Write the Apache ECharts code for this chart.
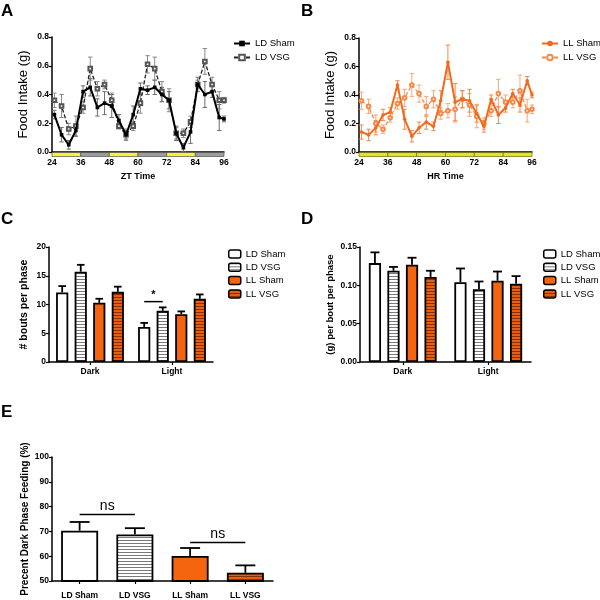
<!DOCTYPE html>
<html><head><meta charset="utf-8">
<script src="https://cdn.jsdelivr.net/npm/echarts@6/dist/echarts.min.js"></script>
<style>html,body{margin:0;padding:0;background:#fff}#c{width:600px;height:600px}</style>
</head><body><div id="c"></div>
<script>
// ---------- Panel A / B (time courses) ----------
const hours = [25,28,31,34,37,40,43,46,49,52,55,58,61,64,67,70,73,76,79,82,85,88,91,94,96];
const ldSham    = [0.26,0.12,0.05,0.15,0.42,0.45,0.31,0.34,0.32,0.22,0.12,0.26,0.44,0.43,0.45,0.40,0.36,0.13,0.03,0.14,0.47,0.40,0.42,0.24,0.23];
const ldShamErr = [0.03,0.05,0.03,0.04,0.04,0.06,0.06,0.08,0.08,0.04,0.03,0.06,0.04,0.03,0.05,0.05,0.06,0.05,0.03,0.08,0.05,0.09,0.04,0.09,0.02];
const ldVsg     = [0.36,0.32,0.16,0.18,0.31,0.58,0.44,0.47,0.36,0.18,0.12,0.18,0.34,0.61,0.58,0.42,0.36,0.13,0.13,0.21,0.47,0.63,0.47,0.36,0.36];
const ldVsgErr  = [0.05,0.08,0.04,0.07,0.04,0.08,0.05,0.03,0.05,0.02,0.04,0.03,0.07,0.06,0.08,0.07,0.08,0.04,0.03,0.04,0.03,0.09,0.05,0.06,0.02];
const llSham    = [0.14,0.12,0.17,0.26,0.28,0.47,0.23,0.11,0.17,0.21,0.18,0.36,0.63,0.35,0.37,0.36,0.27,0.18,0.37,0.26,0.31,0.41,0.33,0.50,0.40];
const llShamErr = [0.05,0.04,0.05,0.04,0.03,0.03,0.07,0.04,0.04,0.05,0.03,0.07,0.12,0.13,0.06,0.08,0.06,0.04,0.03,0.06,0.03,0.03,0.05,0.03,0.02];
const llVsg     = [0.36,0.32,0.20,0.16,0.24,0.34,0.38,0.47,0.41,0.32,0.37,0.27,0.29,0.30,0.37,0.33,0.25,0.20,0.29,0.41,0.35,0.35,0.43,0.29,0.30];
const llVsgErr  = [0.06,0.05,0.06,0.03,0.03,0.04,0.06,0.08,0.06,0.07,0.06,0.04,0.05,0.09,0.06,0.08,0.08,0.04,0.04,0.10,0.05,0.04,0.11,0.08,0.03];
const phaseStart = [24,36,48,60,72,84];
const phaseEnd   = [36,48,60,72,84,96];
const phaseDarkLD = [0,1,0,1,0,1];   // 0 = light (yellow), 1 = dark (gray)

// ---------- Panel C / D (bouts) ----------
const phases = ['Dark','Light'];
const groups = ['LD Sham','LD VSG','LL Sham','LL VSG'];
const boutsLDSham = [12.1, 6.1],  boutsLDShamErr = [1.1, 0.7];
const boutsLDVsg  = [15.7, 8.9],  boutsLDVsgErr  = [1.2, 0.6];
const boutsLLSham = [10.3, 8.3],  boutsLLShamErr = [0.7, 0.5];
const boutsLLVsg  = [12.2, 11.0], boutsLLVsgErr  = [0.9, 0.75];
const sizeLDSham = [0.129, 0.104], sizeLDShamErr = [0.014, 0.018];
const sizeLDVsg  = [0.119, 0.095], sizeLDVsgErr  = [0.005, 0.010];
const sizeLLSham = [0.127, 0.106], sizeLLShamErr = [0.009, 0.012];
const sizeLLVsg  = [0.111, 0.102], sizeLLVsgErr  = [0.008, 0.010];

// ---------- Panel E ----------
const eCats = ['LD Sham','LD VSG','LL Sham','LL VSG'];
const eVals = [70.3, 68.8, 60.1, 53.3];
const eErr  = [3.5, 2.5, 3.2, 3.0];

// significance annotations: [catA, seriesA, catB, seriesB, y]
const sigC = [[1, 0, 1, 1, 10.5]];
const sigCText = ['*'];
const sigE = [[0, 0, 1, 0, 76.8], [2, 0, 3, 0, 65.5]];
const sigEText = ['ns', 'ns'];

// ---------- styling ----------
const FONT = '"Liberation Sans", Arial, sans-serif';
const ORANGE = '#f5650f';
function stripe(bg, line){
  const c = document.createElement('canvas'); c.width = 4; c.height = 3;
  const g = c.getContext('2d');
  g.fillStyle = bg; g.fillRect(0,0,4,3);
  g.fillStyle = line; g.fillRect(0,0,4,1);
  return {image: c, repeat: 'repeat'};
}
const fills = ['#ffffff', stripe('#ffffff','#7a7a7a'), ORANGE, stripe('#e8600f','#8a2e08')];

function lineErr(color){
  return function(params, api){
    const x = api.value(0), y = api.value(1), e = api.value(2);
    const lo = api.coord([x, Math.max(0, y - e)]), hi = api.coord([x, y + e]);
    const c = 2.2, st = {stroke: color, lineWidth: 1};
    return {type:'group', children:[
      {type:'line', shape:{x1:lo[0],y1:lo[1],x2:hi[0],y2:hi[1]}, style:st},
      {type:'line', shape:{x1:lo[0]-c,y1:lo[1],x2:lo[0]+c,y2:lo[1]}, style:st},
      {type:'line', shape:{x1:hi[0]-c,y1:hi[1],x2:hi[0]+c,y2:hi[1]}, style:st}
    ]};
  };
}
function barErr(nSeries, barW, gap, cap){
  return function(params, api){
    const cat = api.value(0), v = api.value(1), e = api.value(2), s = api.value(3);
    const off = (s - (nSeries - 1) / 2) * barW * (1 + gap);
    const b = api.coord([cat, v]), t = api.coord([cat, v + e]);
    const x = b[0] + off, st = {stroke:'#000', lineWidth:1.8};
    return {type:'group', children:[
      {type:'line', shape:{x1:x,y1:b[1],x2:x,y2:t[1]}, style:st},
      {type:'line', shape:{x1:x-cap,y1:t[1],x2:x+cap,y2:t[1]}, style:st}
    ]};
  };
}
function sigRender(nSeries, barW, gap, texts, fontSize, weight){
  return function(params, api){
    const ca = api.value(0), sa = api.value(1), cb = api.value(2), sb = api.value(3), y = api.value(4);
    const pa = api.coord([ca, y]), pb = api.coord([cb, y]);
    const xa = pa[0] + (sa - (nSeries - 1) / 2) * barW * (1 + gap);
    const xb = pb[0] + (sb - (nSeries - 1) / 2) * barW * (1 + gap);
    return {type:'group', children:[
      {type:'line', shape:{x1:xa,y1:pa[1],x2:xb,y2:pa[1]}, style:{stroke:'#000', lineWidth:1.5}},
      {type:'text', x:(xa+xb)/2, y:pa[1]-1, style:{text:texts[params.dataIndex], font: weight+' '+fontSize+'px '+FONT, fill:'#000', align:'center', verticalAlign:'bottom'}}
    ]};
  };
}
function strip(fillFn, stroke){
  return function(params, api){
    const a = api.coord([api.value(0), 0]), b = api.coord([api.value(1), 0]);
    return {type:'rect', shape:{x:a[0], y:a[1]+0.5, width:b[0]-a[0], height:4},
      style:{fill: fillFn(params.dataIndex), stroke: stroke, lineWidth: 0.7}};
  };
}

const axLine = {show:true, lineStyle:{color:'#000', width:1.5}};
const axTick = {show:true, length:3, lineStyle:{color:'#000', width:1.2}};
const tickLbl = {fontSize:8.5, fontWeight:'bold', color:'#000', fontFamily:FONT};

function valX(grid, name){
  return {gridIndex:grid, type:'value', min:24, max:96, interval:12, axisLine:axLine,
    axisTick:{show:false}, splitLine:{show:false}, axisLabel:Object.assign({margin:6}, tickLbl),
    name:name, nameLocation:'middle', nameGap:20,
    nameTextStyle:{fontSize:9, fontWeight:'bold', color:'#000', fontFamily:FONT}};
}
function valY(grid, min, max, interval, dec, name, nameSize, nameWeight, nameGap){
  return {gridIndex:grid, type:'value', min:min, max:max, interval:interval, axisLine:axLine,
    axisTick:axTick, splitLine:{show:false},
    axisLabel:Object.assign({margin:3, formatter:v=>v.toFixed(dec)}, tickLbl),
    name:name, nameLocation:'middle', nameGap:nameGap,
    nameTextStyle:{fontSize:nameSize, fontWeight:nameWeight, color:'#000', fontFamily:FONT}};
}
function catX(grid, data, labelSize, margin){
  return {gridIndex:grid, type:'category', data:data, axisLine:axLine,
    axisTick:{show:true, alignWithLabel:true, length:3, lineStyle:{color:'#000', width:1.2}},
    axisLabel:{fontSize:labelSize, fontWeight:'bold', color:'#000', fontFamily:FONT, margin:margin}};
}

const series = [];
// strips
series.push({type:'custom', xAxisIndex:0, yAxisIndex:0, z:1, silent:true,
  renderItem: strip(i => phaseDarkLD[i] ? '#9c9c9c' : '#f4f43c', '#555'),
  data: phaseStart.map((s,i)=>[s, phaseEnd[i]])});
series.push({type:'custom', xAxisIndex:1, yAxisIndex:1, z:1, silent:true,
  renderItem: strip(i => '#e2e234', '#6a6a10'),
  data: phaseStart.map((s,i)=>[s, phaseEnd[i]])});
// error bars A/B
series.push({type:'custom', xAxisIndex:0, yAxisIndex:0, z:2, renderItem: lineErr('#8a8a8a'),
  data: hours.map((h,i)=>[h, ldVsg[i], ldVsgErr[i]]), encode:{x:0,y:1}});
series.push({type:'custom', xAxisIndex:0, yAxisIndex:0, z:2, renderItem: lineErr('#6e6e6e'),
  data: hours.map((h,i)=>[h, ldSham[i], ldShamErr[i]]), encode:{x:0,y:1}});
series.push({type:'custom', xAxisIndex:1, yAxisIndex:1, z:2, renderItem: lineErr('#f6a878'),
  data: hours.map((h,i)=>[h, llVsg[i], llVsgErr[i]]), encode:{x:0,y:1}});
series.push({type:'custom', xAxisIndex:1, yAxisIndex:1, z:2, renderItem: lineErr('#f08a4e'),
  data: hours.map((h,i)=>[h, llSham[i], llShamErr[i]]), encode:{x:0,y:1}});
// lines
series.push({type:'line', name:'A|LD VSG', xAxisIndex:0, yAxisIndex:0, z:3, clip:false,
  data: hours.map((h,i)=>[h, ldVsg[i]]), symbol:'emptyRect', symbolSize:3.6,
  lineStyle:{color:'#222', width:1.3, type:[4,2]}, itemStyle:{color:'#555', borderWidth:1}});
series.push({type:'line', name:'A|LD Sham', xAxisIndex:0, yAxisIndex:0, z:4, clip:false,
  data: hours.map((h,i)=>[h, ldSham[i]]), symbol:'rect', symbolSize:3.6,
  lineStyle:{color:'#000', width:2}, itemStyle:{color:'#000'}});
series.push({type:'line', name:'B|LL VSG', xAxisIndex:1, yAxisIndex:1, z:3, clip:false,
  data: hours.map((h,i)=>[h, llVsg[i]]), symbol:'emptyCircle', symbolSize:3.6,
  lineStyle:{color:'#f5894a', width:1.3, type:[4,2]}, itemStyle:{color:'#f5894a', borderWidth:1}});
series.push({type:'line', name:'B|LL Sham', xAxisIndex:1, yAxisIndex:1, z:4, clip:false,
  data: hours.map((h,i)=>[h, llSham[i]]), symbol:'circle', symbolSize:3.6,
  lineStyle:{color:'#f26a1e', width:2}, itemStyle:{color:'#f26a1e'}});

// bars C / D
const cVals = [boutsLDSham, boutsLDVsg, boutsLLSham, boutsLLVsg];
const cErrs = [boutsLDShamErr, boutsLDVsgErr, boutsLLShamErr, boutsLLVsgErr];
const dVals = [sizeLDSham, sizeLDVsg, sizeLLSham, sizeLLVsg];
const dErrs = [sizeLDShamErr, sizeLDVsgErr, sizeLLShamErr, sizeLLVsgErr];
const BW = 12.2, GAP = 0.52;
groups.forEach((g, s) => {
  series.push({type:'bar', name:'C|'+g, xAxisIndex:2, yAxisIndex:2, barWidth:BW, barGap:(GAP*100)+'%',
    data:cVals[s], itemStyle:{color:fills[s], borderColor:'#000', borderWidth:1.8}, z:3});
  series.push({type:'bar', name:'D|'+g, xAxisIndex:3, yAxisIndex:3, barWidth:BW, barGap:(GAP*100)+'%',
    data:dVals[s], itemStyle:{color:fills[s], borderColor:'#000', borderWidth:1.8}, z:3});
});
groups.forEach((g, s) => {
  series.push({type:'custom', xAxisIndex:2, yAxisIndex:2, z:2, renderItem: barErr(4, BW, GAP, 3.8),
    data: phases.map((p,i)=>[i, cVals[s][i], cErrs[s][i], s]), encode:{x:0,y:1}});
  series.push({type:'custom', xAxisIndex:3, yAxisIndex:3, z:2, renderItem: barErr(4, BW, GAP, 4.5),
    data: phases.map((p,i)=>[i, dVals[s][i], dErrs[s][i], s]), encode:{x:0,y:1}});
});
series.push({type:'custom', xAxisIndex:2, yAxisIndex:2, z:5, renderItem: sigRender(4, BW, GAP, sigCText, 11, 'bold'),
  data: sigC, encode:{x:0,y:4}});

// bars E
series.push({type:'bar', xAxisIndex:4, yAxisIndex:4, barWidth:37, z:3,
  data: eVals.map((v,i)=>({value:v, itemStyle:{color:fills[i], borderColor:'#000', borderWidth:1.8}}))});
series.push({type:'custom', xAxisIndex:4, yAxisIndex:4, z:2, renderItem: barErr(1, 37, 0, 10),
  data: eVals.map((v,i)=>[i, v, eErr[i], 0]), encode:{x:0,y:1}});
series.push({type:'custom', xAxisIndex:4, yAxisIndex:4, z:5, renderItem: sigRender(1, 37, 0, sigEText, 14, 'normal'),
  data: sigE, encode:{x:0,y:4}});

const lgText = {fontSize:9.5, color:'#000', fontFamily:FONT, lineHeight:11};
const option = {
  animation:false,
  textStyle:{fontFamily:FONT},
  grid:[
    {left:52, top:37, width:172, height:115},
    {left:359, top:38, width:173, height:114},
    {left:49, top:247, width:164, height:115},
    {left:360, top:247, width:171, height:115},
    {left:52, top:457, width:221, height:125}
  ],
  xAxis:[
    valX(0,'ZT Time'), valX(1,'HR Time'),
    catX(2, phases, 8.5, 5), catX(3, phases, 8.5, 5),
    catX(4, eCats, 8.5, 10)
  ],
  yAxis:[
    valY(0, 0, 0.8, 0.2, 1, 'Food Intake (g)', 13, 'normal', 22),
    valY(1, 0, 0.8, 0.2, 1, 'Food Intake (g)', 13, 'normal', 22),
    valY(2, 0, 20, 5, 0, '# bouts per phase', 10.5, 'bold', 19),
    valY(3, 0, 0.15, 0.05, 2, '(g) per bout per phase', 9.5, 'bold', 25),
    valY(4, 50, 100, 10, 0, 'Precent Dark Phase Feeding (%)', 10, 'bold', 22)
  ],
  legend:[
    {data:['A|LD Sham','A|LD VSG'], left:233, top:38, padding:0, orient:'vertical', itemWidth:16, itemHeight:7, itemGap:3,
      textStyle:lgText, formatter:n=>n.split('|')[1], selectedMode:false},
    {data:['B|LL Sham','B|LL VSG'], left:541, top:38, padding:0, orient:'vertical', itemWidth:16, itemHeight:7, itemGap:3,
      textStyle:lgText, formatter:n=>n.split('|')[1], selectedMode:false},
    {data:groups.map(g=>'C|'+g), left:228, top:248.5, padding:0, orient:'vertical', itemWidth:12, itemHeight:8, itemGap:2.3,
      textStyle:lgText, formatter:n=>n.split('|')[1], selectedMode:false,
      itemStyle:{borderColor:'#000', borderWidth:1.5}},
    {data:groups.map(g=>'D|'+g), left:543, top:248.5, padding:0, orient:'vertical', itemWidth:12, itemHeight:8, itemGap:2.3,
      textStyle:lgText, formatter:n=>n.split('|')[1], selectedMode:false,
      itemStyle:{borderColor:'#000', borderWidth:1.5}}
  ],
  graphic:[
    {type:'text', left:1, top:3, style:{text:'A', font:'bold 17px '+FONT, fill:'#000'}},
    {type:'text', left:301, top:3, style:{text:'B', font:'bold 17px '+FONT, fill:'#000'}},
    {type:'text', left:1, top:211, style:{text:'C', font:'bold 17px '+FONT, fill:'#000'}},
    {type:'text', left:301, top:211, style:{text:'D', font:'bold 17px '+FONT, fill:'#000'}},
    {type:'text', left:1, top:404, style:{text:'E', font:'bold 17px '+FONT, fill:'#000'}}
  ],
  series: series
};
const chart = echarts.init(document.getElementById('c'), null, {renderer:'canvas'});
chart.setOption(option);
</script>
</body></html>
